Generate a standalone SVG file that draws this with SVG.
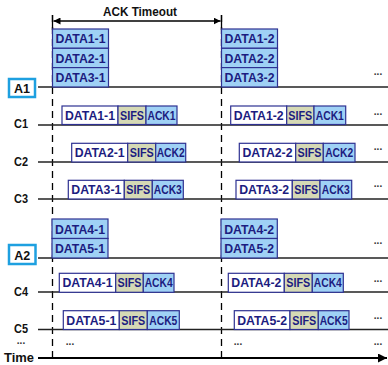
<svg xmlns="http://www.w3.org/2000/svg" width="388" height="365" viewBox="0 0 388 365">
<defs>
<marker id="ah" viewBox="0 0 10 10" refX="10" refY="5" markerWidth="7" markerHeight="7" markerUnits="userSpaceOnUse" orient="auto-start-reverse"><path d="M0,0 L10,5 L0,10 z" fill="#000"/></marker>
<marker id="ta" viewBox="0 0 10 10" refX="10" refY="5" markerWidth="9" markerHeight="9" markerUnits="userSpaceOnUse" orient="auto"><path d="M0,0 L10,5 L0,10 z" fill="#000"/></marker>
</defs>
<style>
.ap{fill:#9fd1f5;stroke:#2e3192;stroke-width:1.2}
.dw{fill:#ffffff;stroke:#2e3192;stroke-width:1.2}
.sf{fill:#d5d9b5;stroke:#2e3192;stroke-width:1.2}
.bt{font-family:"Liberation Sans",Arial,sans-serif;font-weight:bold;font-size:13px;fill:#1c1c80;text-anchor:middle}
.lb{font-family:"Liberation Sans",Arial,sans-serif;font-weight:bold;font-size:13px;fill:#111;text-anchor:middle}
.dots{font-family:"Liberation Sans",Arial,sans-serif;font-weight:bold;font-size:10px;fill:#333;text-anchor:middle}
.hl{stroke:#222;stroke-width:1.4;fill:none}
.dl{stroke:#000;stroke-width:1.3;stroke-dasharray:7,5;fill:none}
.lbox{fill:#fff;stroke:#1ea0e0;stroke-width:2.5}
</style>
<rect width="388" height="365" fill="#fff"/>
<g id="connectors">
<line class="dl" x1="52.5" y1="15" x2="52.5" y2="358"/>
<line class="dl" x1="221.5" y1="15" x2="221.5" y2="358"/>
<line x1="52.5" y1="15" x2="52.5" y2="30" stroke="#000" stroke-width="1.3"/>
<line x1="221.5" y1="15" x2="221.5" y2="30" stroke="#000" stroke-width="1.3"/>
<line x1="53.5" y1="21" x2="220.5" y2="21" stroke="#000" stroke-width="1.3" marker-start="url(#ah)" marker-end="url(#ah)"/>
<line class="hl" x1="38" y1="87" x2="388" y2="87"/>
<line class="hl" x1="38" y1="125" x2="388" y2="125"/>
<line class="hl" x1="38" y1="162" x2="388" y2="162"/>
<line class="hl" x1="38" y1="199" x2="388" y2="199"/>
<line class="hl" x1="38" y1="258" x2="388" y2="258"/>
<line class="hl" x1="38" y1="292" x2="388" y2="292"/>
<line class="hl" x1="38" y1="329.5" x2="388" y2="329.5"/>
<line x1="38" y1="358" x2="387" y2="358" stroke="#000" stroke-width="2.2" marker-end="url(#ta)"/>
</g>
<text class="lb" x="140" y="16" textLength="74" lengthAdjust="spacingAndGlyphs">ACK Timeout</text>
<g id="A1">
<rect class="lbox" x="9" y="79" width="26" height="18"/>
<text class="lb" x="22" y="93" textLength="16" lengthAdjust="spacingAndGlyphs">A1</text>
<rect class="ap" x="52.5" y="29" width="56" height="19.3"/><text class="bt" x="80.5" y="43.3" textLength="50" lengthAdjust="spacingAndGlyphs">DATA1-1</text>
<rect class="ap" x="52.5" y="48.3" width="56" height="19.3"/><text class="bt" x="80.5" y="62.6" textLength="50" lengthAdjust="spacingAndGlyphs">DATA2-1</text>
<rect class="ap" x="52.5" y="67.6" width="56" height="19.4"/><text class="bt" x="80.5" y="81.9" textLength="50" lengthAdjust="spacingAndGlyphs">DATA3-1</text>
<rect class="ap" x="221.5" y="29" width="56" height="19.3"/><text class="bt" x="249.5" y="43.3" textLength="50" lengthAdjust="spacingAndGlyphs">DATA1-2</text>
<rect class="ap" x="221.5" y="48.3" width="56" height="19.3"/><text class="bt" x="249.5" y="62.6" textLength="50" lengthAdjust="spacingAndGlyphs">DATA2-2</text>
<rect class="ap" x="221.5" y="67.6" width="56" height="19.4"/><text class="bt" x="249.5" y="81.9" textLength="50" lengthAdjust="spacingAndGlyphs">DATA3-2</text>
<text class="dots" x="378" y="75">...</text>
</g>
<g id="C1">
<text class="lb" x="21" y="128" textLength="14" lengthAdjust="spacingAndGlyphs">C1</text>
<rect class="dw" x="62" y="106" width="56" height="18.5"/><text class="bt" x="90" y="120" textLength="50" lengthAdjust="spacingAndGlyphs">DATA1-1</text>
<rect class="sf" x="118" y="106" width="28" height="18.5"/><text class="bt" x="132" y="120" textLength="24" lengthAdjust="spacingAndGlyphs">SIFS</text>
<rect class="ap" x="146" y="106" width="31" height="18.5"/><text class="bt" x="161.5" y="120" textLength="28" lengthAdjust="spacingAndGlyphs">ACK1</text>
<rect class="dw" x="230.7" y="106" width="56" height="18.5"/><text class="bt" x="258.7" y="120" textLength="50" lengthAdjust="spacingAndGlyphs">DATA1-2</text>
<rect class="sf" x="286.7" y="106" width="27.3" height="18.5"/><text class="bt" x="300.3" y="120" textLength="24" lengthAdjust="spacingAndGlyphs">SIFS</text>
<rect class="ap" x="314" y="106" width="31.7" height="18.5"/><text class="bt" x="329.8" y="120" textLength="28" lengthAdjust="spacingAndGlyphs">ACK1</text>
<text class="dots" x="378" y="115">...</text>
</g>
<g id="C2">
<text class="lb" x="21" y="166" textLength="14" lengthAdjust="spacingAndGlyphs">C2</text>
<rect class="dw" x="71.7" y="143.3" width="56" height="18.7"/><text class="bt" x="99.7" y="157.4" textLength="50" lengthAdjust="spacingAndGlyphs">DATA2-1</text>
<rect class="sf" x="127.7" y="143.3" width="28" height="18.7"/><text class="bt" x="141.7" y="157.4" textLength="24" lengthAdjust="spacingAndGlyphs">SIFS</text>
<rect class="ap" x="155.7" y="143.3" width="30" height="18.7"/><text class="bt" x="170.7" y="157.4" textLength="28" lengthAdjust="spacingAndGlyphs">ACK2</text>
<rect class="dw" x="239.3" y="143.3" width="56.4" height="18.7"/><text class="bt" x="267.5" y="157.4" textLength="50" lengthAdjust="spacingAndGlyphs">DATA2-2</text>
<rect class="sf" x="295.7" y="143.3" width="27.6" height="18.7"/><text class="bt" x="309.5" y="157.4" textLength="24" lengthAdjust="spacingAndGlyphs">SIFS</text>
<rect class="ap" x="323.3" y="143.3" width="31.7" height="18.7"/><text class="bt" x="339.2" y="157.4" textLength="28" lengthAdjust="spacingAndGlyphs">ACK2</text>
<text class="dots" x="378" y="150">...</text>
</g>
<g id="C3">
<text class="lb" x="21" y="203" textLength="14" lengthAdjust="spacingAndGlyphs">C3</text>
<rect class="dw" x="68.3" y="180.3" width="56" height="18.7"/><text class="bt" x="96.3" y="194.4" textLength="50" lengthAdjust="spacingAndGlyphs">DATA3-1</text>
<rect class="sf" x="124.3" y="180.3" width="28" height="18.7"/><text class="bt" x="138.3" y="194.4" textLength="24" lengthAdjust="spacingAndGlyphs">SIFS</text>
<rect class="ap" x="152.3" y="180.3" width="31" height="18.7"/><text class="bt" x="167.8" y="194.4" textLength="28" lengthAdjust="spacingAndGlyphs">ACK3</text>
<rect class="dw" x="236" y="180.3" width="56.3" height="18.7"/><text class="bt" x="264.2" y="194.4" textLength="50" lengthAdjust="spacingAndGlyphs">DATA3-2</text>
<rect class="sf" x="292.3" y="180.3" width="27.7" height="18.7"/><text class="bt" x="306.2" y="194.4" textLength="24" lengthAdjust="spacingAndGlyphs">SIFS</text>
<rect class="ap" x="320" y="180.3" width="31.7" height="18.7"/><text class="bt" x="335.8" y="194.4" textLength="28" lengthAdjust="spacingAndGlyphs">ACK3</text>
<text class="dots" x="378" y="187">...</text>
</g>
<g id="A2">
<rect class="lbox" x="9" y="245" width="26.5" height="19"/>
<text class="lb" x="22.2" y="259.5" textLength="16" lengthAdjust="spacingAndGlyphs">A2</text>
<rect class="ap" x="52" y="219" width="56" height="19.5"/><text class="bt" x="80" y="233.6" textLength="50" lengthAdjust="spacingAndGlyphs">DATA4-1</text>
<rect class="ap" x="52" y="238.5" width="56" height="19.5"/><text class="bt" x="80" y="253.1" textLength="50" lengthAdjust="spacingAndGlyphs">DATA5-1</text>
<rect class="ap" x="221" y="219" width="56.3" height="19.5"/><text class="bt" x="249.2" y="233.6" textLength="50" lengthAdjust="spacingAndGlyphs">DATA4-2</text>
<rect class="ap" x="221" y="238.5" width="56.3" height="19.5"/><text class="bt" x="249.2" y="253.1" textLength="50" lengthAdjust="spacingAndGlyphs">DATA5-2</text>
<text class="dots" x="378" y="244">...</text>
</g>
<g id="C4">
<text class="lb" x="21" y="296" textLength="14" lengthAdjust="spacingAndGlyphs">C4</text>
<rect class="dw" x="59.3" y="273.3" width="56.4" height="19"/><text class="bt" x="87.5" y="287.4" textLength="50" lengthAdjust="spacingAndGlyphs">DATA4-1</text>
<rect class="sf" x="115.7" y="273.3" width="27.6" height="19"/><text class="bt" x="129.5" y="287.4" textLength="24" lengthAdjust="spacingAndGlyphs">SIFS</text>
<rect class="ap" x="143.3" y="273.3" width="30.7" height="19"/><text class="bt" x="158.7" y="287.4" textLength="28" lengthAdjust="spacingAndGlyphs">ACK4</text>
<rect class="dw" x="228.3" y="273.3" width="56" height="19"/><text class="bt" x="256.3" y="287.4" textLength="50" lengthAdjust="spacingAndGlyphs">DATA4-2</text>
<rect class="sf" x="284.3" y="273.3" width="28" height="19"/><text class="bt" x="298.3" y="287.4" textLength="24" lengthAdjust="spacingAndGlyphs">SIFS</text>
<rect class="ap" x="312.3" y="273.3" width="31" height="19"/><text class="bt" x="327.8" y="287.4" textLength="28" lengthAdjust="spacingAndGlyphs">ACK4</text>
<text class="dots" x="378" y="282">...</text>
</g>
<g id="C5">
<text class="lb" x="21" y="333" textLength="14" lengthAdjust="spacingAndGlyphs">C5</text>
<rect class="dw" x="63.3" y="310.7" width="56" height="18.8"/><text class="bt" x="91.3" y="324.7" textLength="50" lengthAdjust="spacingAndGlyphs">DATA5-1</text>
<rect class="sf" x="119.3" y="310.7" width="28" height="18.8"/><text class="bt" x="133.3" y="324.7" textLength="24" lengthAdjust="spacingAndGlyphs">SIFS</text>
<rect class="ap" x="147.3" y="310.7" width="32" height="18.8"/><text class="bt" x="163.3" y="324.7" textLength="28" lengthAdjust="spacingAndGlyphs">ACK5</text>
<rect class="dw" x="234.3" y="310.7" width="55.7" height="18.8"/><text class="bt" x="262.2" y="324.7" textLength="50" lengthAdjust="spacingAndGlyphs">DATA5-2</text>
<rect class="sf" x="290" y="310.7" width="28.3" height="18.8"/><text class="bt" x="304.2" y="324.7" textLength="24" lengthAdjust="spacingAndGlyphs">SIFS</text>
<rect class="ap" x="318.3" y="310.7" width="30.7" height="18.8"/><text class="bt" x="333.7" y="324.7" textLength="28" lengthAdjust="spacingAndGlyphs">ACK5</text>
<text class="dots" x="378" y="319">...</text>
</g>
<g id="more">
<text class="dots" x="21" y="344">...</text>
<text class="dots" x="70" y="345">...</text>
<text class="dots" x="238" y="345">...</text>
<text class="dots" x="378" y="345">...</text>
</g>
<text class="lb" x="19" y="362" textLength="30" lengthAdjust="spacingAndGlyphs">Time</text>
</svg>
